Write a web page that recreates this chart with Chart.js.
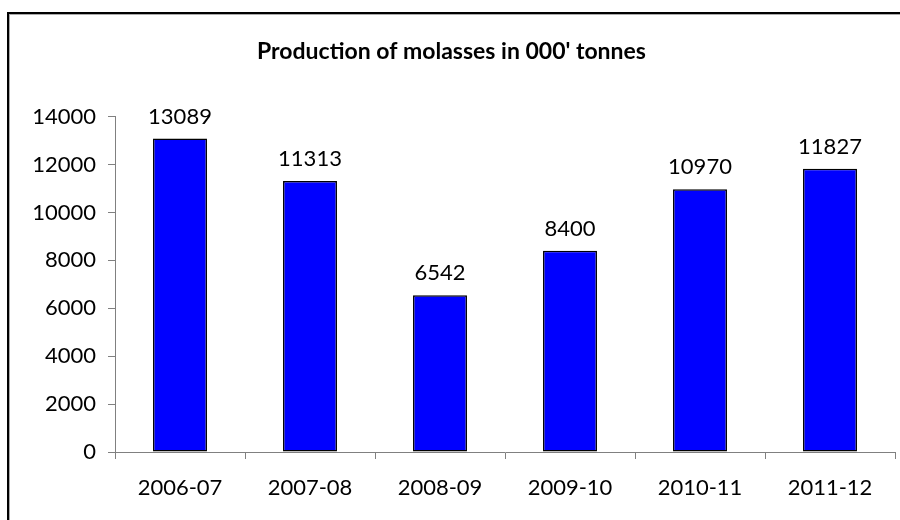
<!DOCTYPE html>
<html>
<head>
<meta charset="utf-8">
<title>Production of molasses</title>
<script src="https://cdn.jsdelivr.net/npm/chart.js@4"></script>
<style>
  html, body { margin: 0; padding: 0; background: #fff; overflow: hidden; }
  #wrap { position: relative; width: 900px; height: 520px; }
  #frame {
    position: absolute; left: 7px; top: 12px; width: 1000px; height: 600px;
    border: 2px solid #000; box-shadow: inset 1px 1px 0 #aaa;
  }
  canvas { position: absolute; left: 0; top: 0; }
</style>
</head>
<body>
<div id="wrap">
  <div id="frame"></div>
  <canvas id="chart" width="900" height="520"></canvas>
</div>
<script>
const seasons = ["2006-07", "2007-08", "2008-09", "2009-10", "2010-11", "2011-12"];
const production = [13089, 11313, 6542, 8400, 10970, 11827];
const titleText = "Production of molasses in 000' tonnes";

const FONT = "Lato, 'Open Sans', sans-serif";

// numbers above every bar
const valueLabels = {
    id: "valueLabels",
    afterDatasetsDraw(chart) {
        const ctx = chart.ctx;
        const meta = chart.getDatasetMeta(0);
        ctx.save();
        ctx.font = "22px " + FONT;
        ctx.fillStyle = "#000";
        ctx.textAlign = "center";
        ctx.textBaseline = "middle";
        meta.data.forEach((bar, i) => {
            ctx.fillText(production[i], bar.x, bar.y - 22);
        });
        ctx.restore();
    }
};

const ctx = document.getElementById("chart").getContext("2d");
new Chart(ctx, {
    type: "bar",
    data: {
        labels: seasons,
        datasets: [{
            data: production,
            backgroundColor: "#0000ff",
            borderColor: "#000",
            borderWidth: 1.5,
            borderSkipped: false,
            categoryPercentage: 1,
            barPercentage: 0.415
        }]
    },
    options: {
        responsive: false,
        animation: false,
        layout: { padding: { left: 8, right: 5, top: 13, bottom: 0 } },
        plugins: {
            legend: { display: false },
            tooltip: { enabled: false },
            title: {
                display: true,
                text: titleText,
                color: "#000",
                font: { family: FONT, size: 23, weight: "bold" },
                padding: { top: 25, bottom: 51 }
            }
        },
        scales: {
            x: {
                grid: { drawOnChartArea: false, drawTicks: true, tickLength: 7, color: "#808080" },
                border: { color: "#808080", width: 1 },
                ticks: { color: "#000", font: { family: FONT, size: 22 }, padding: 16 },
                afterFit(s) { s.height = 68; }
            },
            y: {
                min: 0,
                max: 14000,
                grid: { drawOnChartArea: false, drawTicks: true, tickLength: 7, color: "#808080" },
                border: { color: "#808080", width: 1 },
                ticks: {
                    stepSize: 2000,
                    color: "#000",
                    font: { family: FONT, size: 22 },
                    padding: 12,
                    callback: (v) => String(v)
                },
                afterFit(s) { s.width = 107; }
            }
        }
    },
    plugins: [valueLabels]
});
</script>
</body>
</html>
